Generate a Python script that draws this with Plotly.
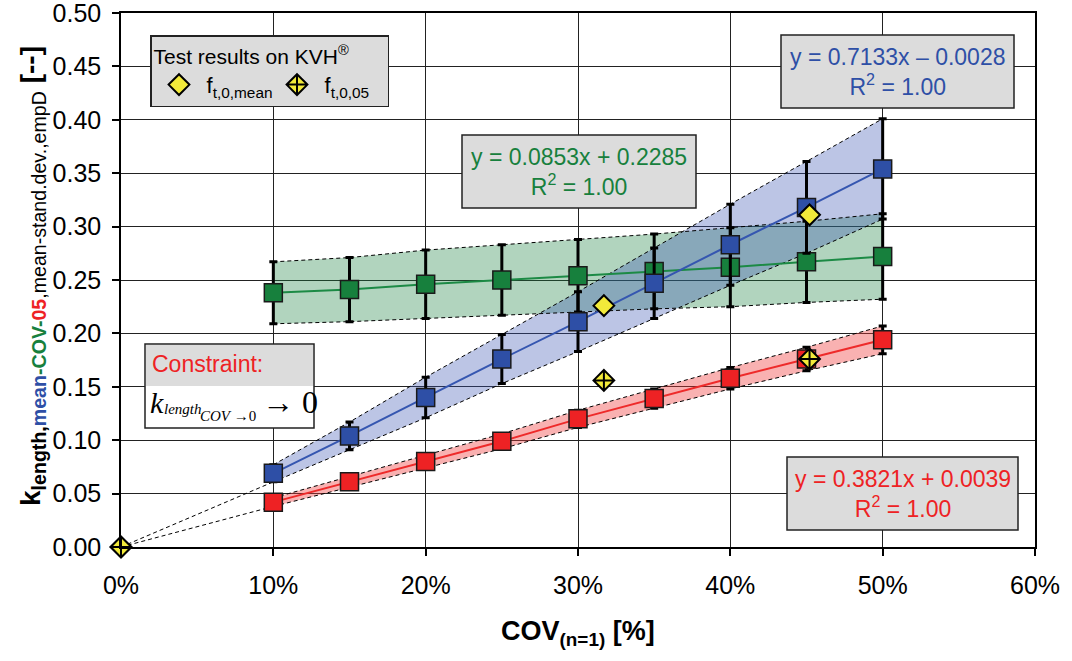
import plotly.graph_objects as go

# ---- data -------------------------------------------------------------
cov = [0.10, 0.15, 0.20, 0.25, 0.30, 0.35, 0.40, 0.45, 0.50]

k_mean = [0.069, 0.104, 0.140, 0.176, 0.211, 0.247, 0.283, 0.318, 0.354]
sd_mean = [0.008, 0.013, 0.019, 0.023, 0.028, 0.033, 0.038, 0.043, 0.047]

k_cov = [0.238, 0.241, 0.246, 0.250, 0.254, 0.258, 0.262, 0.267, 0.272]
sd_cov = [0.029, 0.030, 0.032, 0.033, 0.034, 0.035, 0.037, 0.038, 0.040]

k_05 = [0.042, 0.061, 0.080, 0.099, 0.120, 0.139, 0.158, 0.176, 0.194]
sd_05 = [0.004, 0.005, 0.006, 0.007, 0.008, 0.009, 0.010, 0.011, 0.013]

test_cov = [0.0, 0.317, 0.452]
f_mean = [0.0, 0.226, 0.311]
f_05 = [0.0, 0.156, 0.176]

eq_mean = "y = 0.7133x \u2013 0.0028"
eq_cov = "y = 0.0853x + 0.2285"
eq_05 = "y = 0.3821x + 0.0039"
r2_text = "R<sup>2</sup> = 1.00"

x_ticks = [0.0, 0.1, 0.2, 0.3, 0.4, 0.5, 0.6]
y_ticks = [0.00, 0.05, 0.10, 0.15, 0.20, 0.25, 0.30, 0.35, 0.40, 0.45, 0.50]

# ---- style ------------------------------------------------------------
BLUE, BLUE_LINE, BLUE_FILL = "#2E4FA6", "#3556B0", "rgba(60,85,180,0.34)"
GREEN, GREEN_LINE, GREEN_FILL = "#17803D", "#1C8A45", "rgba(25,130,65,0.34)"
RED, RED_LINE, RED_FILL = "#EE2224", "#EE2A2A", "rgba(240,60,60,0.40)"
YELLOW = "#F2EA3A"
SANS = "Liberation Sans, Arial, sans-serif"
SERIF = "Liberation Serif, Times New Roman, serif"

W, H = 1072, 661
L, R, T, B = 121, 1035, 13, 547


def px(x):
    return (x - L) / (R - L)


def py(y):
    return (B - y) / (B - T)


fig = go.Figure()


def band(mean, sd, fill):
    up = [m + s for m, s in zip(mean, sd)]
    lo = [m - s for m, s in zip(mean, sd)]
    fig.add_trace(go.Scatter(
        x=cov + cov[::-1], y=up + lo[::-1], fill="toself", fillcolor=fill,
        mode="none", hoverinfo="skip", showlegend=False))
    return up, lo


bands = []
for mean, sd, fill in [(k_cov, sd_cov, GREEN_FILL), (k_mean, sd_mean, BLUE_FILL),
                       (k_05, sd_05, RED_FILL)]:
    bands.append(band(mean, sd, fill))

# dashed band edges
for up, lo in bands:
    for edge in (up, lo):
        fig.add_trace(go.Scatter(x=cov, y=edge, mode="lines",
                                 line=dict(color="black", width=1, dash="4px,3px"),
                                 hoverinfo="skip", showlegend=False))

# dashed extension of the lower edges towards the origin (constraint k -> 0)
for up, lo in bands[1:]:
    fig.add_trace(go.Scatter(x=[0.0, cov[0]], y=[0.0, lo[0]], mode="lines",
                             line=dict(color="black", width=1, dash="4px,3px"),
                             hoverinfo="skip", showlegend=False))

# series with error bars
for mean, sd, col, lcol in [(k_cov, sd_cov, GREEN, GREEN_LINE),
                            (k_mean, sd_mean, BLUE, BLUE_LINE),
                            (k_05, sd_05, RED, RED_LINE)]:
    fig.add_trace(go.Scatter(
        x=cov, y=mean, mode="lines+markers",
        line=dict(color=lcol, width=2),
        marker=dict(symbol="square", size=18, color=col,
                    line=dict(color="#1a1a1a", width=1.5)),
        error_y=dict(type="data", array=sd, visible=True, color="black",
                     thickness=3, width=4),
        showlegend=False))

# test results
fig.add_trace(go.Scatter(
    x=test_cov, y=f_mean, mode="markers", name="f<sub>t,0,mean</sub>",
    cliponaxis=False,
    marker=dict(symbol="diamond", size=16, color=YELLOW,
                line=dict(color="black", width=2))))
fig.add_trace(go.Scatter(
    x=test_cov, y=f_05, mode="markers", name="f<sub>t,0,05</sub>",
    cliponaxis=False,
    marker=dict(symbol="diamond-cross", size=16, color=YELLOW,
                line=dict(color="black", width=2))))

axis_common = dict(
    showline=True, linecolor="black", linewidth=1.5, mirror=True,
    showgrid=True, gridcolor="#222222", gridwidth=1.3, zeroline=False,
    ticks="outside", ticklen=7, tickwidth=1.5, tickcolor="black",
    tickfont=dict(family=SANS, size=25, color="black"), automargin=False,
    ticklabeloverflow="allow",
)

fig.update_xaxes(range=[0, 0.6], tickvals=x_ticks, tickformat=".0%",
                 ticklabelstandoff=8, **axis_common)
fig.update_yaxes(range=[0, 0.5], tickvals=y_ticks, tickformat=".2f",
                 ticklabelstandoff=6, **axis_common)

ann = []
shapes = []


def text_box(x0, y0, w, h, text, color):
    shapes.append(dict(type="rect", xref="paper", yref="paper",
                       x0=px(x0), x1=px(x0 + w), y0=py(y0 + h), y1=py(y0),
                       fillcolor="#DCDCDC", line=dict(color="#222222", width=1.5),
                       layer="above"))
    ann.append(dict(xref="paper", yref="paper", x=px(x0 + w / 2), y=py(y0 + h / 2),
                    xanchor="center", yanchor="middle", showarrow=False,
                    text=text, align="center",
                    font=dict(family=SANS, size=23, color=color)))


text_box(781, 35, 233, 73, eq_mean + "<br>" + r2_text, BLUE)
text_box(462, 135, 234, 73, eq_cov + "<br>" + r2_text, GREEN)
text_box(787, 457, 231, 73, eq_05 + "<br>" + r2_text, RED)

# constraint box
shapes.append(dict(type="rect", xref="paper", yref="paper",
                   x0=px(145), x1=px(314), y0=py(428), y1=py(344),
                   fillcolor="white", line=dict(color="#222222", width=1.5),
                   layer="above"))
shapes.append(dict(type="rect", xref="paper", yref="paper",
                   x0=px(146), x1=px(313), y0=py(386), y1=py(345),
                   fillcolor="#DCDCDC", line=dict(width=0), layer="above"))
ann.append(dict(xref="paper", yref="paper", x=px(150), y=py(364),
                xanchor="left", yanchor="middle", showarrow=False,
                text="Constraint:", font=dict(family=SANS, size=23, color=RED)))
ann.append(dict(xref="paper", yref="paper", x=px(148), y=py(402),
                xanchor="left", yanchor="middle", showarrow=False,
                text="<i>k</i>", font=dict(family=SERIF, size=30, color="black")))
ann.append(dict(xref="paper", yref="paper", x=px(162), y=py(409),
                xanchor="left", yanchor="middle", showarrow=False,
                text="<i>length</i>", font=dict(family=SERIF, size=15, color="black")))
ann.append(dict(xref="paper", yref="paper", x=px(198), y=py(416),
                xanchor="left", yanchor="middle", showarrow=False,
                text="<i>COV</i> \u21920", font=dict(family=SERIF, size=15, color="black")))
ann.append(dict(xref="paper", yref="paper", x=px(260), y=py(402),
                xanchor="left", yanchor="middle", showarrow=False,
                text="\u2192 0", font=dict(family=SERIF, size=32, color="black")))

# axis titles
y_title = ("<b>k<sub>length,<span style='color:%s'>mean</span>"
           "<span style='color:%s'>-COV-</span><span style='color:%s'>05</span></sub></b>"
           "<sub>,mean-stand.dev.,empD</sub> <b>[--]</b>") % (BLUE, GREEN, RED)
ann.append(dict(xref="paper", yref="paper", x=px(32), y=py(276),
                xanchor="center", yanchor="middle", showarrow=False, textangle=-90,
                text=y_title, font=dict(family=SANS, size=28, color="black")))
ann.append(dict(xref="paper", yref="paper", x=0.5, y=py(633),
                xanchor="center", yanchor="middle", showarrow=False,
                text="<b>COV<sub>(n=1)</sub> [%]</b>",
                font=dict(family=SANS, size=27, color="black")))

fig.update_layout(
    width=W, height=H,
    margin=dict(l=L, r=W - R, t=T, b=H - B),
    paper_bgcolor="white", plot_bgcolor="white",
    annotations=ann, shapes=shapes,
    showlegend=True,
    legend=dict(
        orientation="h", x=px(150), y=py(35), xanchor="left", yanchor="top",
        bgcolor="#DCDCDC", bordercolor="#222222", borderwidth=1.5,
        font=dict(family=SANS, size=22, color="black"),
        title=dict(text="Test results on KVH<sup>\u00ae</sup>", side="top",
                   font=dict(family=SANS, size=21, color="black")),
        itemsizing="trace", itemwidth=45, entrywidth=58,
    ),
)

fig.write_html("out.html")
